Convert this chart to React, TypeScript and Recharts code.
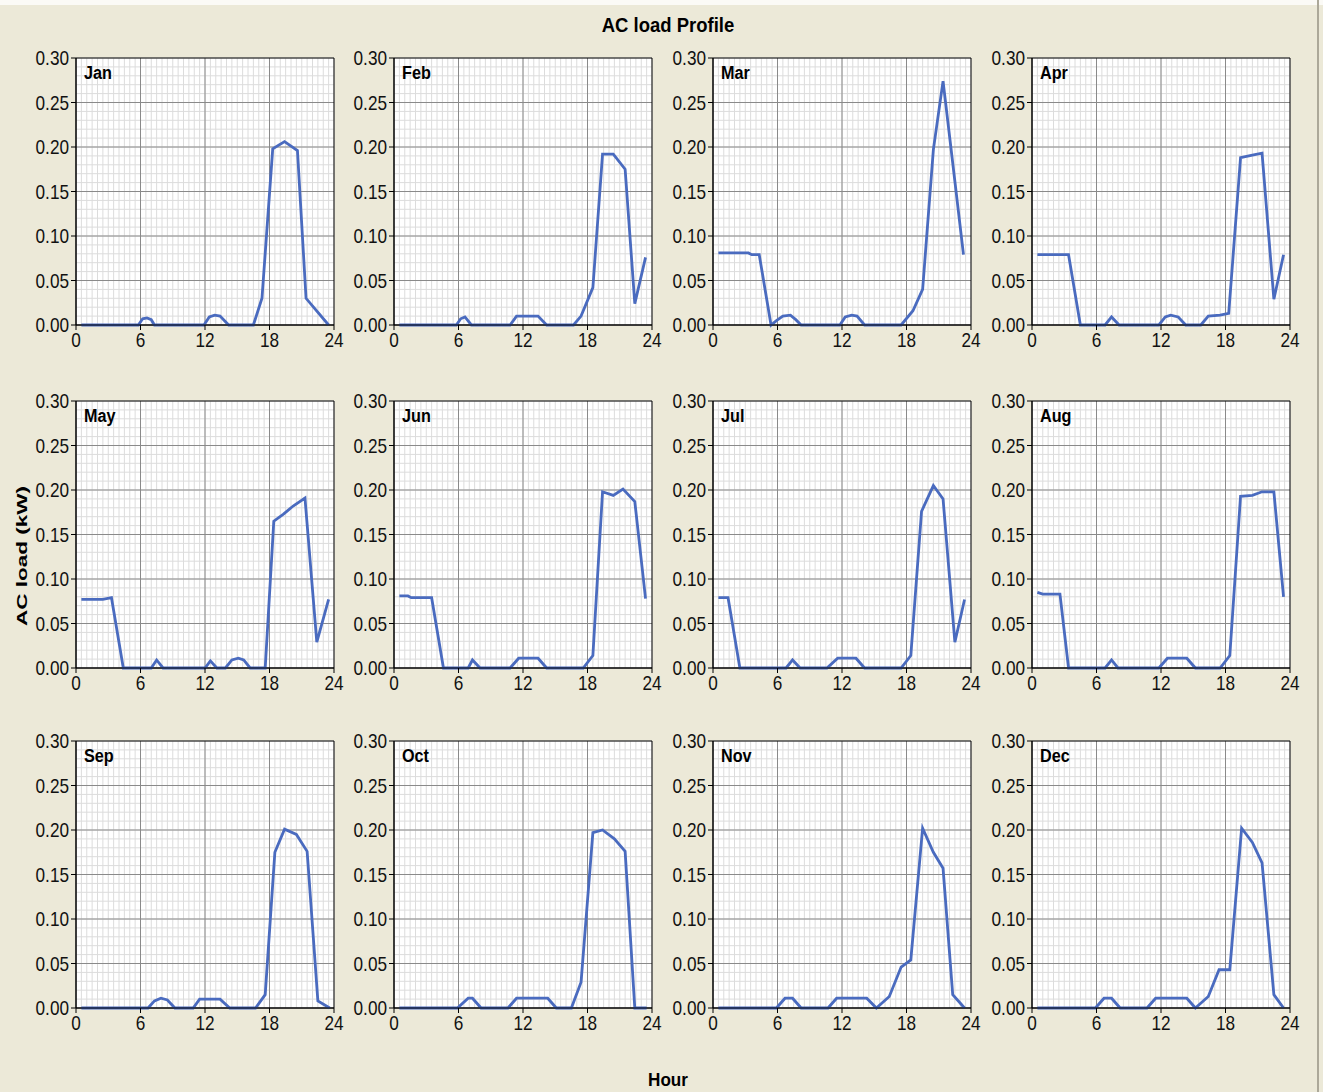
import { LineChart, Line, XAxis, YAxis, CartesianGrid, ReferenceArea } from 'recharts';

const MONTHS = ['Jan', 'Feb', 'Mar', 'Apr', 'May', 'Jun', 'Jul', 'Aug', 'Sep', 'Oct', 'Nov', 'Dec'];

// [hour, AC load kW]
const JAN = [[0.5, 0], [5.8, 0], [6.2, 0.007], [6.6, 0.008], [7.0, 0.006], [7.3, 0], [11.9, 0], [12.4, 0.009], [12.9, 0.011], [13.4, 0.01], [14.2, 0], [16.5, 0], [17.3, 0.03], [18.3, 0.198], [19.4, 0.206], [20.6, 0.196], [21.4, 0.03], [23.5, 0]];
const FEB = [[0.5, 0], [5.8, 0], [6.2, 0.007], [6.6, 0.009], [7.2, 0], [10.8, 0], [11.4, 0.01], [13.4, 0.01], [14.2, 0], [16.7, 0], [17.4, 0.01], [18.5, 0.042], [19.4, 0.192], [20.4, 0.192], [21.5, 0.175], [22.4, 0.024], [23.4, 0.076]];
const MAR = [[0.5, 0.081], [3.3, 0.081], [3.6, 0.079], [4.3, 0.079], [5.4, 0], [5.9, 0.005], [6.5, 0.01], [7.2, 0.011], [7.7, 0.006], [8.2, 0], [11.8, 0], [12.3, 0.009], [12.9, 0.011], [13.4, 0.01], [14.1, 0], [17.5, 0], [18.6, 0.016], [19.5, 0.04], [20.5, 0.197], [21.4, 0.274], [22.3, 0.182], [23.3, 0.079]];
const APR = [[0.5, 0.079], [3.4, 0.079], [4.5, 0], [6.8, 0], [7.4, 0.009], [8.1, 0], [11.8, 0], [12.4, 0.009], [12.9, 0.011], [13.6, 0.009], [14.3, 0], [15.7, 0], [16.4, 0.01], [17.5, 0.011], [18.3, 0.013], [19.4, 0.188], [20.5, 0.191], [21.4, 0.193], [22.5, 0.029], [23.4, 0.079]];
const MAY = [[0.5, 0.077], [2.5, 0.077], [3.3, 0.079], [4.4, 0], [7.0, 0], [7.5, 0.009], [8.1, 0], [12.0, 0], [12.5, 0.008], [13.1, 0], [13.9, 0], [14.5, 0.009], [15.1, 0.011], [15.6, 0.009], [16.2, 0], [17.6, 0], [18.4, 0.165], [19.3, 0.173], [20.2, 0.182], [21.3, 0.191], [22.4, 0.029], [23.5, 0.077]];
const JUN = [[0.5, 0.081], [1.3, 0.081], [1.6, 0.079], [3.5, 0.079], [4.6, 0], [6.9, 0], [7.3, 0.009], [8.0, 0], [10.8, 0], [11.6, 0.011], [13.4, 0.011], [14.2, 0], [17.6, 0], [18.5, 0.014], [19.4, 0.198], [20.4, 0.194], [21.3, 0.201], [22.4, 0.187], [23.4, 0.078]];
const JUL = [[0.5, 0.079], [1.4, 0.079], [2.5, 0], [6.8, 0], [7.4, 0.009], [8.1, 0], [10.6, 0], [11.6, 0.011], [13.3, 0.011], [14.1, 0], [17.5, 0], [18.4, 0.014], [19.4, 0.176], [20.5, 0.205], [21.4, 0.19], [22.5, 0.029], [23.4, 0.077]];
const AUG = [[0.5, 0.085], [1.0, 0.083], [2.6, 0.083], [3.4, 0], [6.8, 0], [7.4, 0.009], [8.0, 0], [11.8, 0], [12.6, 0.011], [14.4, 0.011], [15.2, 0], [17.5, 0], [18.4, 0.014], [19.4, 0.193], [20.5, 0.194], [21.4, 0.198], [22.5, 0.198], [23.4, 0.08]];
const SEP = [[0.5, 0], [6.7, 0], [7.3, 0.008], [7.9, 0.011], [8.5, 0.009], [9.2, 0], [10.9, 0], [11.5, 0.01], [13.4, 0.01], [14.3, 0], [16.7, 0], [17.6, 0.015], [18.5, 0.175], [19.4, 0.201], [20.5, 0.195], [21.5, 0.176], [22.5, 0.008], [23.6, 0]];
const OCT = [[0.5, 0], [5.9, 0], [6.9, 0.011], [7.3, 0.011], [8.1, 0], [10.6, 0], [11.4, 0.011], [14.3, 0.011], [15.1, 0], [16.5, 0], [17.4, 0.029], [18.5, 0.197], [19.4, 0.2], [20.5, 0.19], [21.5, 0.176], [22.4, 0], [23.5, 0]];
const NOV = [[0.5, 0], [5.9, 0], [6.7, 0.011], [7.4, 0.011], [8.2, 0], [10.7, 0], [11.5, 0.011], [14.3, 0.011], [15.2, 0], [16.4, 0.013], [17.5, 0.046], [18.4, 0.054], [19.5, 0.202], [20.5, 0.175], [21.4, 0.157], [22.3, 0.015], [23.4, 0]];
const DEC = [[0.5, 0], [5.9, 0], [6.7, 0.011], [7.4, 0.011], [8.2, 0], [10.7, 0], [11.5, 0.011], [14.4, 0.011], [15.2, 0], [16.4, 0.013], [17.4, 0.043], [18.4, 0.043], [19.5, 0.202], [20.5, 0.186], [21.4, 0.163], [22.5, 0.015], [23.4, 0]];

const SERIES = [JAN, FEB, MAR, APR, MAY, JUN, JUL, AUG, SEP, OCT, NOV, DEC];

const HOUR_TICKS = [0, 6, 12, 18, 24];
const LOAD_TICKS = [0, 0.05, 0.1, 0.15, 0.2, 0.25, 0.3];

// grid / minor tick positions
const HOUR_MINOR = Array.from({ length: 25 }, (_, i) => i);
const HOUR_FINE = Array.from({ length: 49 }, (_, i) => i / 2);
const LOAD_MINOR = Array.from({ length: 31 }, (_, i) => +(i * 0.01).toFixed(2));
const MAJOR_H = [6, 12, 18];
const MAJOR_V = [0.05, 0.1, 0.15, 0.2, 0.25];

const FONT = '"Liberation Sans", Arial, sans-serif';
const COL_LEFT = [76, 394, 713, 1032];
const ROW_TOP = [58, 401, 741];
const PLOT_W = 258;
const PLOT_H = 267;
const Y_W = 50;

// narrow-looking tick labels, like the original's Arial Narrow
const XTick = ({ x, y, payload }: any) => (
  <g transform={`translate(${x},${y})`}>
    <text transform="scale(0.86,1)" textAnchor="middle" dy="0.75em" fontSize={20} fontFamily={FONT} fill="#111">{payload.value}</text>
  </g>
);
const YTick = ({ x, y, payload }: any) => (
  <g transform={`translate(${x},${y})`}>
    <text transform="scale(0.86,1)" textAnchor="end" dy="0.36em" fontSize={20} fontFamily={FONT} fill="#111">{Number(payload.value).toFixed(2)}</text>
  </g>
);

function Panel({ name, points, left, top }: { name: string; points: number[][]; left: number; top: number }) {
  const data = points.map(([h, v]) => ({ h, v }));
  return (
    <div style={{ position: 'absolute', left: left - Y_W, top: top - 10 }}>
      <LineChart width={Y_W + PLOT_W + 14} height={10 + PLOT_H + 32} data={data} margin={{ top: 10, right: 14, bottom: 0, left: 0 }}>
        <CartesianGrid stroke="#dcdcdc" strokeWidth={1} fill="#fff" verticalValues={HOUR_FINE} horizontalValues={LOAD_MINOR} />
        <CartesianGrid stroke="#8a8a8a" strokeWidth={1} verticalValues={MAJOR_H} horizontalValues={MAJOR_V} />
        <XAxis xAxisId="minor" dataKey="h" type="number" domain={[0, 24]} ticks={HOUR_MINOR} interval={0} height={0} mirror axisLine={false} tick={false} tickSize={3} tickLine={{ stroke: '#000' }} />
        <XAxis dataKey="h" type="number" domain={[0, 24]} ticks={HOUR_TICKS} interval={0} height={32} tickSize={5} axisLine={{ stroke: '#000' }} tickLine={{ stroke: '#000' }} tick={<XTick />} />
        <YAxis yAxisId="minor" type="number" domain={[0, 0.3]} ticks={LOAD_MINOR} interval={0} width={0} mirror axisLine={false} tick={false} tickSize={3} tickLine={{ stroke: '#000' }} />
        <YAxis type="number" domain={[0, 0.3]} ticks={LOAD_TICKS} interval={0} width={Y_W} tickSize={5} axisLine={{ stroke: '#000' }} tickLine={{ stroke: '#000' }} tick={<YTick />} />
        <ReferenceArea x1={0} x2={24} y1={0} y2={0.3} fill="none" stroke="#000" strokeWidth={1} />
        <Line dataKey="v" type="linear" stroke="#4a6bbf" strokeWidth={2.8} dot={false} isAnimationActive={false} />
      </LineChart>
      <div style={{ position: 'absolute', left: Y_W + 8, top: 15, fontFamily: FONT, fontWeight: 'bold', fontSize: 18, color: '#000', transform: 'scaleX(0.9)', transformOrigin: 'left top' }}>{name}</div>
    </div>
  );
}

export default function App() {
  return (
    <div style={{ position: 'absolute', left: 0, top: 0, width: 1323, height: 1092, background: '#ece9d8', fontFamily: FONT, overflow: 'hidden' }}>
      <div style={{ position: 'absolute', left: 0, top: 0, width: 1323, height: 5, background: '#fbfaf6' }} />
      <div style={{ position: 'absolute', left: 1317, top: 0, width: 2, height: 1092, background: '#aca899' }} />
      <div style={{ position: 'absolute', left: 668, top: 13, transform: 'translateX(-50%) scaleX(0.88)', whiteSpace: 'nowrap', fontWeight: 'bold', fontSize: 21 }}>AC load Profile</div>
      {MONTHS.map((m, i) => (
        <Panel key={m} name={m} points={SERIES[i]} left={COL_LEFT[i % 4]} top={ROW_TOP[Math.floor(i / 4)]} />
      ))}
      <div style={{ position: 'absolute', left: 21, top: 556, transform: 'translate(-50%, -50%) rotate(-90deg) scaleX(1.5)', whiteSpace: 'nowrap', fontWeight: 'bold', fontSize: 15 }}>AC load (kW)</div>
      <div style={{ position: 'absolute', left: 668, top: 1069, transform: 'translateX(-50%) scaleX(0.9)', whiteSpace: 'nowrap', fontWeight: 'bold', fontSize: 19 }}>Hour</div>
    </div>
  );
}
